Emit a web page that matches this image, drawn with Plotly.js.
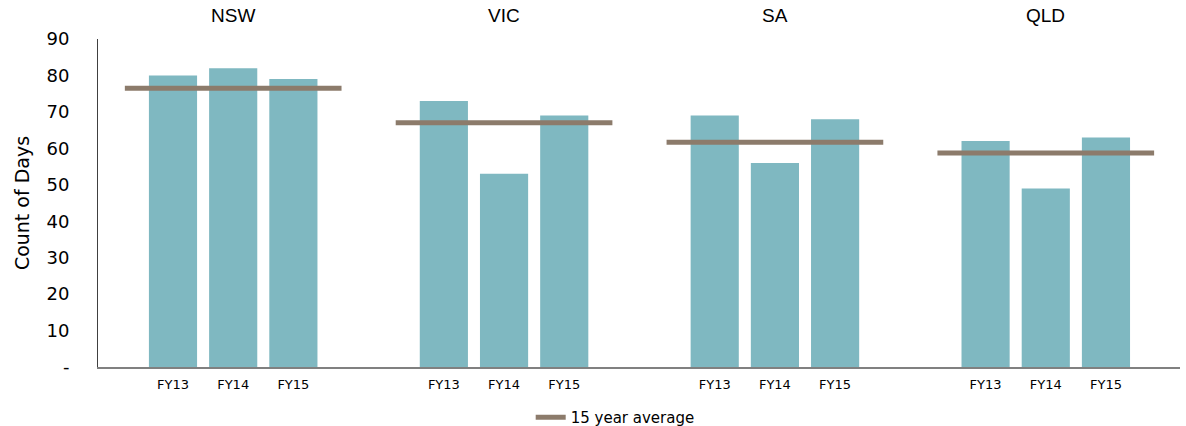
<!DOCTYPE html>
<html><head><meta charset="utf-8">
<script src="https://cdn.plot.ly/plotly-3.0.1.min.js"></script>
<style>html,body{margin:0;padding:0;background:#fff}#chart{width:1186px;height:426px}</style>
</head><body><div id="chart"></div>
<script>
const regions = ["NSW", "VIC", "SA", "QLD"];
const years = ["FY13", "FY14", "FY15"];
const nsw = [80, 82, 79];
const vic = [73, 53, 69];
const sa = [69, 56, 68];
const qld = [62, 49, 63];
const avg15 = [76.5, 67, 61.7, 58.7];
const yTickVals = [0, 10, 20, 30, 40, 50, 60, 70, 80, 90];
const yTickText = ["-", "10", "20", "30", "40", "50", "60", "70", "80", "90"];

const values = [nsw, vic, sa, qld];
const groupStep = 4.5, lineExt = 0.8;
const bx = [], by = [], tv = [], tt = [];
values.forEach((vals, g) => vals.forEach((v, i) => {
  bx.push(g * groupStep + i); by.push(v); tv.push(g * groupStep + i); tt.push(years[i]);
}));
const traces = [{
  type: 'bar', x: bx, y: by, width: 0.8, marker: {color: '#7fb8c1', line: {width: 0}},
  showlegend: false, hoverinfo: 'y'
}];
const lx = [], ly = [];
avg15.forEach((a, g) => {
  lx.push(g * groupStep - lineExt, g * groupStep + 2 + lineExt, null);
  ly.push(a, a, null);
});
traces.push({type: 'scatter', mode: 'lines', x: lx, y: ly, name: '15 year average',
  line: {color: '#8c7b6b', width: 5}, connectgaps: false});

const annotations = regions.map((r, g) => ({
  text: r, x: g * groupStep + 1, xref: 'x', y: 1.035, yref: 'paper', yanchor: 'bottom',
  showarrow: false, font: {family: 'Liberation Sans, Arial', size: 19, color: '#000'}
}));

Plotly.newPlot('chart', traces, {
  width: 1186, height: 426,
  margin: {l: 98, r: 6, t: 39, b: 59, autoexpand: false},
  paper_bgcolor: '#fff', plot_bgcolor: '#fff',
  font: {family: 'DejaVu Sans, Verdana', color: '#000'},
  xaxis: {range: [-1.246, 16.73], tickvals: tv, ticktext: tt, showgrid: false, zeroline: false,
    showline: true, linecolor: '#808080', linewidth: 2, ticks: '', tickfont: {size: 13}, ticklabelstandoff: 4},
  yaxis: {range: [0, 90], tickvals: yTickVals, ticktext: yTickText, showgrid: false, zeroline: false,
    showline: true, linecolor: '#404040', linewidth: 1, ticks: '', tickfont: {size: 18}, ticklabelstandoff: 24,
    title: {text: 'Count of Days', font: {size: 19}, standoff: 11}},
  showlegend: true,
  legend: {orientation: 'h', x: 0.478, xanchor: 'center', yref: 'container', y: 0.02, yanchor: 'middle', font: {size: 15}},
  annotations: annotations
}, {displayModeBar: false, staticPlot: true});
</script></body></html>
